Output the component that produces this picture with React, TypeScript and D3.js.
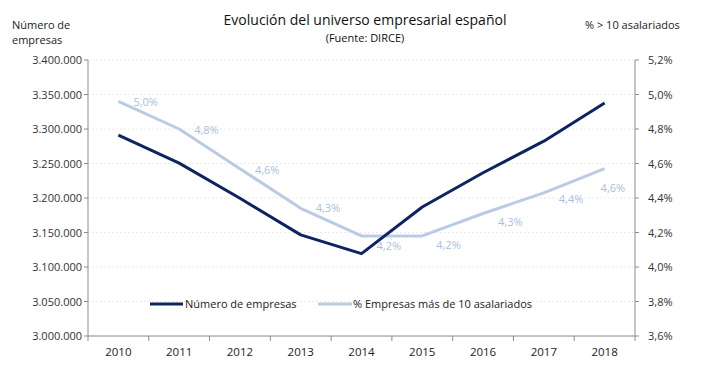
import React from "react";
import * as d3 from "d3";

const years = ["2010", "2011", "2012", "2013", "2014", "2015", "2016", "2017", "2018"];
const empresas = [3291263, 3250576, 3199617, 3146570, 3119310, 3186878, 3236582, 3282346, 3337646];
const pctMas10 = [4.96, 4.8, 4.57, 4.34, 4.18, 4.18, 4.31, 4.43, 4.57];
const leftTicks = [3000000, 3050000, 3100000, 3150000, 3200000, 3250000, 3300000, 3350000, 3400000];
const rightTicks = [3.6, 3.8, 4.0, 4.2, 4.4, 4.6, 4.8, 5.0, 5.2];
const labelDx = [15, 15, 15, 15, 15, 14, 15, 15, -4];
const labelDy = [1, 1, 1, 0, 10, 9, 8, 6, 19];

const W = 702;
const H = 372;
const M = { left: 88, right: 635, top: 60, bottom: 336 };
const DARK = "#0c2560";
const LIGHT = "#b9cce4";
const LABEL = "#a9bfdc";
const FONT = "'Open Sans', 'Liberation Sans', sans-serif";

export default function App() {
  const x = d3.scaleBand<string>().domain(years).range([M.left, M.right]);
  const yL = d3.scaleLinear().domain([3000000, 3400000]).range([M.bottom, M.top]);
  const yR = d3.scaleLinear().domain([3.6, 5.2]).range([M.bottom, M.top]);
  const cx = (y: string) => (x(y) as number) + x.bandwidth() / 2;
  const fmtL = (v: number) => d3.format(",")(v).replace(/,/g, ".");
  const fmtR = (v: number) => d3.format(".1f")(v).replace(".", ",") + "%";

  const lineL = d3.line<number>().x((_, i) => cx(years[i])).y((d) => yL(d));
  const lineR = d3.line<number>().x((_, i) => cx(years[i])).y((d) => yR(d));

  const boundaries = years.map((y) => x(y) as number).concat([M.right]);

  return (
    <svg width={W} height={H} style={{ display: "block", position: "absolute", left: 0, top: 0 }} fontFamily={FONT}>
      <rect width={W} height={H} fill="#fff" />
      {/* gridlines */}
      {leftTicks.map((t) => (
        <line key={"g" + t} x1={M.left} x2={M.right} y1={yL(t)} y2={yL(t)} stroke="#eaeaea" strokeWidth={1} strokeDasharray="2,2" />
      ))}
      {/* title */}
      <text x={365} y={25} textAnchor="middle" fontSize={14} fill="#111">Evolución del universo empresarial español</text>
      <text x={365} y={42} textAnchor="middle" fontSize={11} fill="#111">(Fuente: DIRCE)</text>
      <text x={12} y={29} fontSize={11} fill="#222">Número de</text>
      <text x={12} y={44} fontSize={11} fill="#222">empresas</text>
      <text x={585} y={29} fontSize={11} fill="#222">% &gt; 10 asalariados</text>

      {/* axes */}
      <line x1={M.left} x2={M.left} y1={M.top} y2={M.bottom} stroke="#8c8c8c" />
      <line x1={M.right} x2={M.right} y1={M.top} y2={M.bottom} stroke="#8c8c8c" />
      <line x1={M.left} x2={M.right} y1={M.bottom} y2={M.bottom} stroke="#8c8c8c" />
      {leftTicks.map((t) => (
        <g key={"l" + t}>
          <line x1={M.left - 4} x2={M.left} y1={yL(t)} y2={yL(t)} stroke="#8c8c8c" />
          <text x={82} y={yL(t) + 4} textAnchor="end" fontSize={11} fill="#333">{fmtL(t)}</text>
        </g>
      ))}
      {rightTicks.map((t) => (
        <g key={"r" + t}>
          <line x1={M.right} x2={M.right + 4} y1={yR(t)} y2={yR(t)} stroke="#8c8c8c" />
          <text x={648} y={yR(t) + 4} fontSize={11} fill="#333">{fmtR(t)}</text>
        </g>
      ))}
      {boundaries.map((b, i) => (
        <line key={"xb" + i} x1={b} x2={b} y1={M.bottom} y2={M.bottom + 5} stroke="#8c8c8c" />
      ))}
      {years.map((y) => (
        <text key={"x" + y} x={cx(y)} y={356} textAnchor="middle" fontSize={11.5} fill="#222">{y}</text>
      ))}

      {/* lines */}
      <path d={lineR(pctMas10) || ""} fill="none" stroke={LIGHT} strokeWidth={3} strokeLinejoin="round" />
      <path d={lineL(empresas) || ""} fill="none" stroke={DARK} strokeWidth={3} strokeLinejoin="round" />

      {/* labels */}
      {pctMas10.map((v, i) => (
        <text key={"dl" + i} x={cx(years[i]) + labelDx[i]} y={yR(v) + labelDy[i] + 4} fontSize={11} fill={LABEL}>{fmtR(v)}</text>
      ))}

      {/* legend */}
      <line x1={150} x2={183} y1={304} y2={304} stroke={DARK} strokeWidth={3} />
      <text x={185} y={308} fontSize={11} fill="#222">Número de empresas</text>
      <line x1={318} x2={352} y1={304} y2={304} stroke={LIGHT} strokeWidth={3} />
      <text x={353} y={308} fontSize={11} fill="#222">% Empresas más de 10 asalariados</text>
    </svg>
  );
}
